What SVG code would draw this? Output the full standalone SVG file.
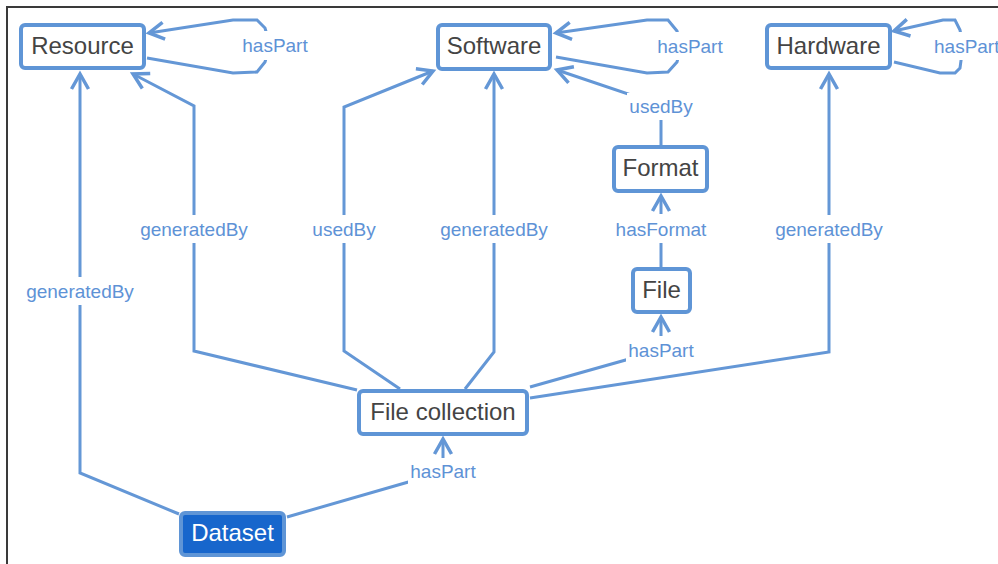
<svg xmlns="http://www.w3.org/2000/svg" width="998" height="564" viewBox="0 0 998 564">
<style>
.node rect{fill:#ffffff;stroke:#5f95d6;stroke-width:4}
.node text{font-family:"Liberation Sans",Arial,sans-serif;font-size:24px;fill:#444444;text-anchor:middle}
#n-dataset rect{fill:#1766cc}
#n-dataset text{fill:#ffffff}
.edge{fill:none;stroke:#6497d6;stroke-width:3;stroke-linejoin:miter;marker-end:url(#arr)}
.lbg{fill:#ffffff}
.lbl{font-family:"Liberation Sans",Arial,sans-serif;font-size:19px;fill:#5e92d6;text-anchor:middle}
</style>
<defs>
<marker id="arr" markerUnits="userSpaceOnUse" markerWidth="22" markerHeight="22" viewBox="-18 -11 22 22" refX="0" refY="0" orient="auto">
<path d="M-15,-8.5 L0,0 L-15,8.5" fill="none" stroke="#6497d6" stroke-width="3.5"/>
</marker>
</defs>
<rect x="0" y="0" width="998" height="564" fill="#ffffff"/>
<path d="M7,564 L7,7 L998,7" fill="none" stroke="#3a3a3a" stroke-width="2"/>
<g id="connectors">
<path class="edge" d="M179,514 L80,473 L80,74"/>
<path class="edge" d="M357,390 L194,351 L194,106 L133,74"/>
<path class="edge" d="M400,389 L344,351 L344,107 L433,71"/>
<path class="edge" d="M465,389 L494,352 L494,74"/>
<path class="edge" d="M661,145 L661,105 L557,70"/>
<path class="edge" d="M661,267 L661,196"/>
<path class="edge" d="M530,387 L661,350 L661,317"/>
<path class="edge" d="M530,398 L829,352 L829,74"/>
<path class="edge" d="M287,517 L443,472 L443,439"/>
<path class="edge" d="M147,58 L233,73 L257,72 L265,62 L270,45 L265,28 L257,20 L233,20 L149,33"/>
<path class="edge" d="M556,57 L647,73 L668,72 L677,62 L681,46 L677,31 L668,20 L647,20 L556,33"/>
<path class="edge" d="M894,62 L940,73 L955,73 L960,68 L963,46 L960,30 L955,20 L943,20 L894,31"/>
<rect class="lbg" x="23" y="277" width="114" height="28"/>
<text class="lbl" x="80" y="298">generatedBy</text>
<rect class="lbg" x="137" y="215" width="114" height="28"/>
<text class="lbl" x="194" y="236">generatedBy</text>
<rect class="lbg" x="310" y="215" width="68" height="28"/>
<text class="lbl" x="344" y="236">usedBy</text>
<rect class="lbg" x="437" y="215" width="114" height="28"/>
<text class="lbl" x="494" y="236">generatedBy</text>
<rect class="lbg" x="772" y="215" width="114" height="28"/>
<text class="lbl" x="829" y="236">generatedBy</text>
<rect class="lbg" x="613" y="214" width="96" height="29"/>
<text class="lbl" x="661" y="236">hasFormat</text>
<rect class="lbg" x="627" y="93" width="68" height="27"/>
<text class="lbl" x="661" y="113">usedBy</text>
<rect class="lbg" x="626" y="336" width="70" height="28"/>
<text class="lbl" x="661" y="357">hasPart</text>
<rect class="lbg" x="408" y="458" width="70" height="28"/>
<text class="lbl" x="443" y="478">hasPart</text>
<rect class="lbg" x="240" y="31" width="70" height="29"/>
<text class="lbl" x="275" y="52">hasPart</text>
<rect class="lbg" x="655" y="32" width="70" height="28"/>
<text class="lbl" x="690" y="53">hasPart</text>
<rect class="lbg" x="932" y="32" width="70" height="28"/>
<text class="lbl" x="934" y="53" style="text-anchor:start">hasPart</text>
</g>
<g id="n-resource" class="node"><rect x="21" y="25" width="123" height="43" rx="4"/><text x="82.5" y="54">Resource</text></g>
<g id="n-software" class="node"><rect x="438" y="25" width="112" height="44" rx="4"/><text x="494" y="54">Software</text></g>
<g id="n-hardware" class="node"><rect x="767" y="25" width="123" height="43" rx="4"/><text x="828.5" y="54">Hardware</text></g>
<g id="n-format" class="node"><rect x="614" y="147" width="93" height="44" rx="4"/><text x="660.5" y="176">Format</text></g>
<g id="n-file" class="node"><rect x="633" y="269" width="57" height="43" rx="4"/><text x="661.5" y="298">File</text></g>
<g id="n-filecollection" class="node"><rect x="359" y="391" width="168" height="43" rx="4"/><text x="443" y="420">File collection</text></g>
<g id="n-dataset" class="node"><rect x="181" y="513" width="103" height="42" rx="4"/><text x="232.5" y="541">Dataset</text></g>
</svg>
